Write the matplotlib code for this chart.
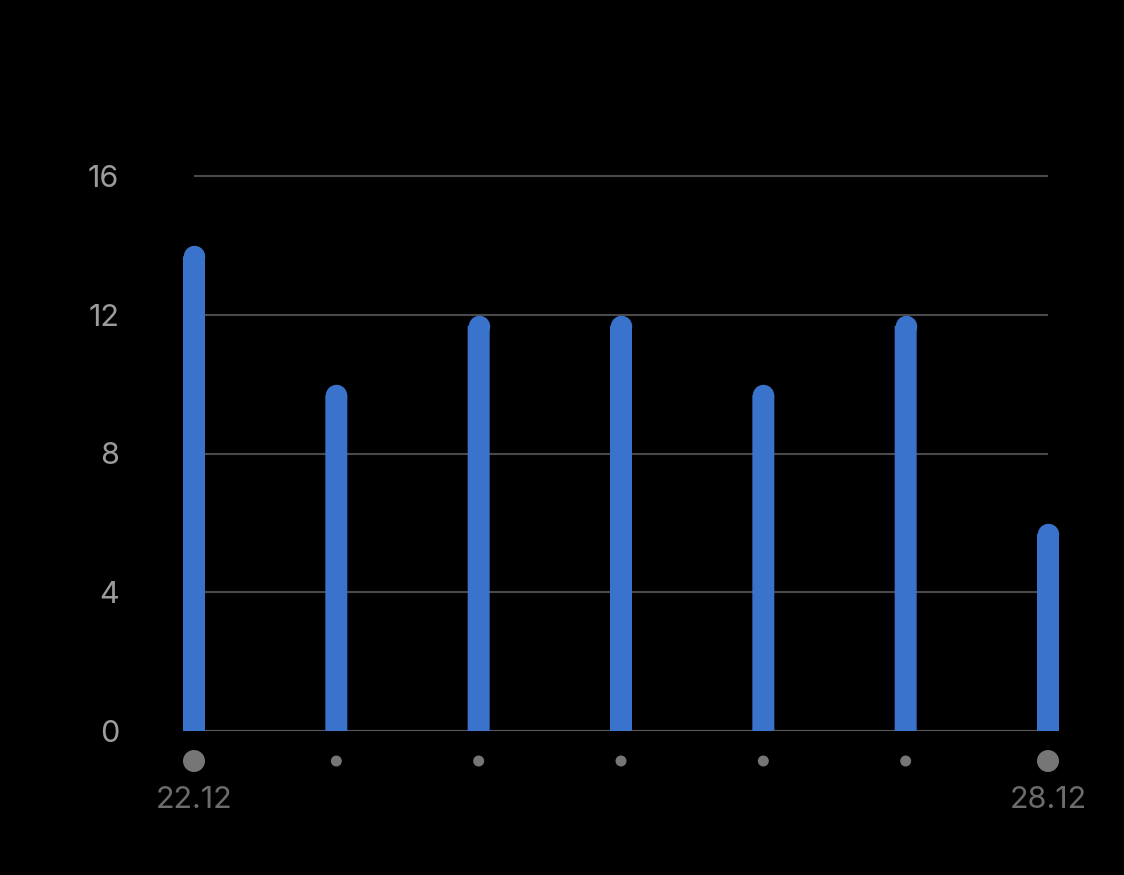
import matplotlib.pyplot as plt
import numpy as np

DPI = 100
W_PX, H_PX = 1124, 875
BG = '#000000'
BAR_COL = '#3a73cc'
GRID_COL = '#4a4a4a'
YTICK_COL = '#9c9c9c'
XTICK_COL = '#6c6c6c'
DOT_COL = '#767676'

days = ['22.12', '23.12', '24.12', '25.12', '26.12', '27.12', '28.12']
values = [14, 10, 12, 12, 10, 12, 6]
labeled = [True, False, False, False, False, False, True]
y_ticks = [0, 4, 8, 12, 16]

plt.rcParams['font.family'] = ['Inter', 'DejaVu Sans']

fig = plt.figure(figsize=(W_PX / DPI, H_PX / DPI), dpi=DPI, facecolor=BG)

# axes in pixel coords: left edge of first bar .. right edge of last bar
BAR_W_PX = 22
left_px, right_px = 183, 1059
bottom_px, top_px = 731, 170
ax = fig.add_axes([left_px / W_PX, 1 - bottom_px / H_PX,
                   (right_px - left_px) / W_PX, (bottom_px - top_px) / H_PX])
ax.set_facecolor(BG)

xs = np.arange(len(values))
step_px = (right_px - left_px - BAR_W_PX) / (len(values) - 1)
pad = (BAR_W_PX / 2) / step_px
ax.set_xlim(-pad, xs[-1] + pad)
px_per_unit = (bottom_px - 176) / 16
ax.set_ylim(0, (bottom_px - top_px) / px_per_unit)

# gridlines
for t in y_ticks[1:]:
    ax.hlines(t, xs[0], xs[-1], color=GRID_COL, linewidth=1.5, zorder=1)
ax.axhline(0, color='#5a5a5a', linewidth=1.5, zorder=1)

# bars with rounded tops
r = (BAR_W_PX / 2) / px_per_unit
bar_w = BAR_W_PX / step_px
heights = np.array(values) - r
ax.bar(xs, heights, width=bar_w, color=BAR_COL, linewidth=0, zorder=2, snap=False)
ms = (BAR_W_PX - 0.6) * 72 / DPI
ax.scatter(xs, heights, s=ms ** 2, color=BAR_COL, linewidths=0, zorder=2)

for s in ax.spines.values():
    s.set_visible(False)
ax.set_xticks([])
ax.set_yticks(y_ticks)
ax.set_yticklabels([str(t) for t in y_ticks])
ax.tick_params(axis='y', length=0, pad=46, labelsize=22, labelcolor=YTICK_COL)

# dots and date labels below axis
dot_y = -(761 - bottom_px) / px_per_unit
lab_y = -(800 - bottom_px) / px_per_unit
big = [BAR_W_PX * 72 / DPI if l else 11 * 72 / DPI for l in labeled]
ax.scatter(xs, [dot_y] * len(xs), s=np.array(big) ** 2, color=DOT_COL,
           linewidths=0, clip_on=False)
for x, d, l in zip(xs, days, labeled):
    if l:
        ax.text(x, lab_y, d, ha='center', va='center', fontsize=22,
                color=XTICK_COL, clip_on=False)

fig.savefig('out.png', dpi=DPI, facecolor=BG)
